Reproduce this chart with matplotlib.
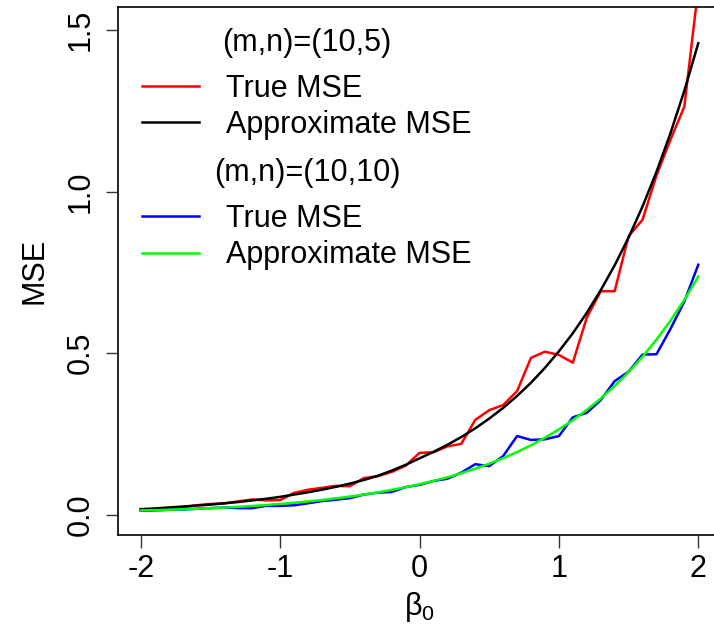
"""
MSE of the beta_0 estimate: simulated (true) MSE against the approximate MSE,
for the two sample size settings (m,n)=(10,5) and (m,n)=(10,10).
"""
import matplotlib
matplotlib.use("Agg")
import matplotlib.pyplot as plt

# grid of beta_0 values
beta0 = [-2.0, -1.9, -1.8, -1.7, -1.6, -1.5, -1.4, -1.3, -1.2, -1.1, -1.0,
         -0.9, -0.8, -0.7, -0.6, -0.5, -0.4, -0.3, -0.2, -0.1, 0.0,
         0.1, 0.2, 0.3, 0.4, 0.5, 0.6, 0.7, 0.8, 0.9, 1.0,
         1.1, 1.2, 1.3, 1.4, 1.5, 1.6, 1.7, 1.8, 1.9, 2.0]

# (m,n)=(10,5)
true_mse_10_5 = [0.017, 0.018, 0.020, 0.024, 0.030, 0.034, 0.036, 0.042, 0.048, 0.045, 0.046,
                 0.068, 0.078, 0.084, 0.090, 0.089, 0.114, 0.120, 0.133, 0.152, 0.192,
                 0.194, 0.212, 0.220, 0.294, 0.324, 0.340, 0.383, 0.486, 0.505, 0.495,
                 0.471, 0.610, 0.692, 0.692, 0.862, 0.913, 1.050, 1.160, 1.263, 1.630]
approx_mse_10_5 = [0.018, 0.020, 0.023, 0.026, 0.029, 0.032, 0.036, 0.040, 0.045, 0.050, 0.056,
                   0.063, 0.070, 0.078, 0.087, 0.097, 0.108, 0.121, 0.137, 0.155, 0.175,
                   0.195, 0.217, 0.241, 0.268, 0.298, 0.331, 0.368, 0.409, 0.455, 0.506,
                   0.562, 0.625, 0.695, 0.772, 0.858, 0.954, 1.061, 1.180, 1.312, 1.459]

# (m,n)=(10,10)
true_mse_10_10 = [0.013, 0.014, 0.016, 0.017, 0.019, 0.021, 0.023, 0.021, 0.021, 0.028, 0.028,
                  0.030, 0.036, 0.043, 0.047, 0.052, 0.063, 0.069, 0.071, 0.086, 0.093,
                  0.105, 0.112, 0.131, 0.157, 0.151, 0.182, 0.244, 0.232, 0.234, 0.244,
                  0.302, 0.316, 0.355, 0.414, 0.443, 0.496, 0.497, 0.575, 0.660, 0.774]
approx_mse_10_10 = [0.014, 0.015, 0.016, 0.0175, 0.019, 0.021, 0.0228, 0.025, 0.0277, 0.0307, 0.0341,
                    0.0377, 0.0418, 0.0463, 0.0513, 0.0569, 0.063, 0.0698, 0.0774, 0.0857, 0.095,
                    0.1052, 0.1166, 0.1292, 0.1431, 0.1586, 0.1757, 0.1946, 0.2156, 0.2389, 0.2647,
                    0.2932, 0.3249, 0.3599, 0.3988, 0.4418, 0.4895, 0.5423, 0.6008, 0.6656, 0.7374]

x_ticks = [-2, -1, 0, 1, 2]
y_ticks = [0.0, 0.5, 1.0, 1.5]
y_tick_labels = ["0.0", "0.5", "1.0", "1.5"]


def setup_fonts():
    """R on Windows draws with Arial, Liberation Sans is the closest match"""
    plt.rcParams['font.family'] = ['Liberation Sans', 'DejaVu Sans']
    plt.rcParams['mathtext.fontset'] = 'custom'
    plt.rcParams['mathtext.rm'] = 'Liberation Sans'
    plt.rcParams['mathtext.it'] = 'Liberation Sans'
    plt.rcParams['font.size'] = 22


def add_legend(ax, handles, title, top):
    """
    R style legend without a box: a centred title line, then the entries
    :param top: top of the legend in axes fraction
    """
    leg = ax.legend(handles, ['True MSE', 'Approximate MSE'], title=title,
                    frameon=False, loc='upper left', bbox_to_anchor=(0.04, top),
                    borderpad=0, borderaxespad=0, handlelength=1.85,
                    handletextpad=0.9, labelspacing=0.213,
                    fontsize=22, title_fontsize=22)
    # a bit more room between the title line and the first entry
    leg._legend_box.sep = 11.2
    return leg


def main():
    setup_fonts()

    fig = plt.figure(figsize=(7.14, 6.38), dpi=100)
    # right edge of the box sits just outside the picture, as in the original
    ax = fig.add_axes([118 / 714, 103 / 638, 603 / 714, 528 / 638])

    lw = 1.8
    red, = ax.plot(beta0, true_mse_10_5, color='#ff0000', lw=lw)
    black, = ax.plot(beta0, approx_mse_10_5, color='black', lw=lw)
    blue, = ax.plot(beta0, true_mse_10_10, color='#0000ff', lw=lw)
    green, = ax.plot(beta0, approx_mse_10_10, color='#00ff00', lw=lw)

    ax.set_xlim(-2.163, 2.163)
    ax.set_ylim(-0.062, 1.571)

    ax.set_xticks(x_ticks)
    ax.set_xticklabels([str(t) for t in x_ticks])
    ax.set_yticks(y_ticks)
    ax.set_yticklabels(y_tick_labels, rotation=90, va='center')
    ax.tick_params(direction='out', length=9, width=1, color='#333333')
    ax.tick_params(axis='x', pad=5)
    ax.tick_params(axis='y', pad=7)

    for spine in ax.spines.values():
        spine.set_linewidth(1.2)

    ax.set_xlabel(r'$\beta_0$', labelpad=4)
    ax.set_ylabel('MSE', labelpad=12)

    leg1 = add_legend(ax, [red, black], '(m,n)=(10,5)', 0.960)
    ax.add_artist(leg1)
    add_legend(ax, [blue, green], '(m,n)=(10,10)', 0.7135)

    fig.savefig('out.png', dpi=100)


main()
